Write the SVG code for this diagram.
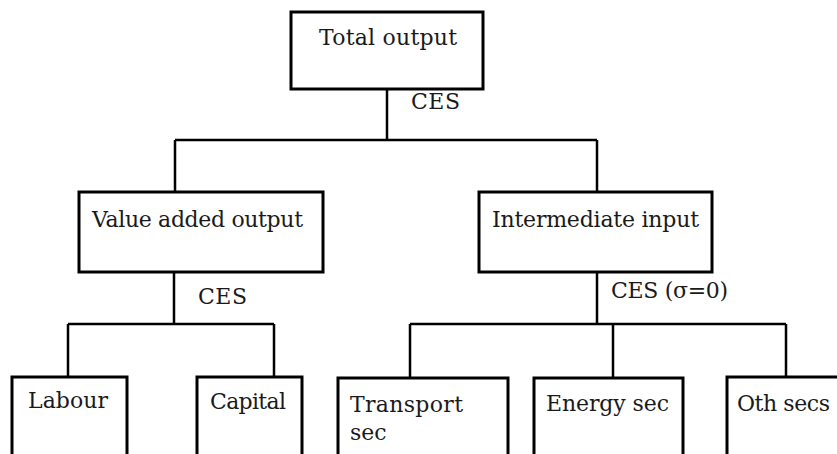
<svg xmlns="http://www.w3.org/2000/svg" width="837" height="454" viewBox="0 0 837 454">
<style>
  .box { fill: #ffffff; stroke: #000000; stroke-width: 3; }
  .conn { fill: none; stroke: #000000; stroke-width: 2.5; }
  text { font-family: "DejaVu Serif", "Liberation Serif", serif; font-size: 22px; fill: #1a1a1a; }
</style>
<rect width="837" height="454" fill="#ffffff"/>
<g id="connectors">
  <path class="conn" d="M387 89 V140 M175 140 H597 M175 140 V192 M597 140 V192"/>
  <path class="conn" d="M174 272 V324 M68 324 H274 M68 324 V377 M274 324 V377"/>
  <path class="conn" d="M597 272 V324 M410 324 H786 M410 324 V377 M613 324 V377 M786 324 V377"/>
  <text x="411" y="109" textLength="49">CES</text>
  <text x="198" y="304" textLength="49">CES</text>
  <text x="611" y="298" textLength="117">CES (σ=0)</text>
</g>
<g id="total-output">
  <rect class="box" x="291" y="12" width="192" height="77"/>
  <text x="319" y="45" textLength="138">Total output</text>
</g>
<g id="value-added-output">
  <rect class="box" x="79" y="192" width="244" height="80"/>
  <text x="92" y="227" textLength="211">Value added output</text>
</g>
<g id="intermediate-input">
  <rect class="box" x="479" y="192" width="233" height="80"/>
  <text x="492" y="227" textLength="207">Intermediate input</text>
</g>
<g id="labour">
  <rect class="box" x="12" y="377" width="115" height="100"/>
  <text x="28" y="408" textLength="80">Labour</text>
</g>
<g id="capital">
  <rect class="box" x="197" y="377" width="105" height="100"/>
  <text x="210" y="409" textLength="76">Capital</text>
</g>
<g id="transport-sec">
  <rect class="box" x="338" y="378" width="170" height="100"/>
  <text x="350" y="412" textLength="113">Transport</text>
  <text x="350" y="440">sec</text>
</g>
<g id="energy-sec">
  <rect class="box" x="534" y="378" width="149" height="100"/>
  <text x="546" y="411" textLength="123">Energy sec</text>
</g>
<g id="oth-secs">
  <rect class="box" x="727" y="377" width="130" height="100"/>
  <text x="737" y="411" textLength="93">Oth secs</text>
</g>
</svg>
